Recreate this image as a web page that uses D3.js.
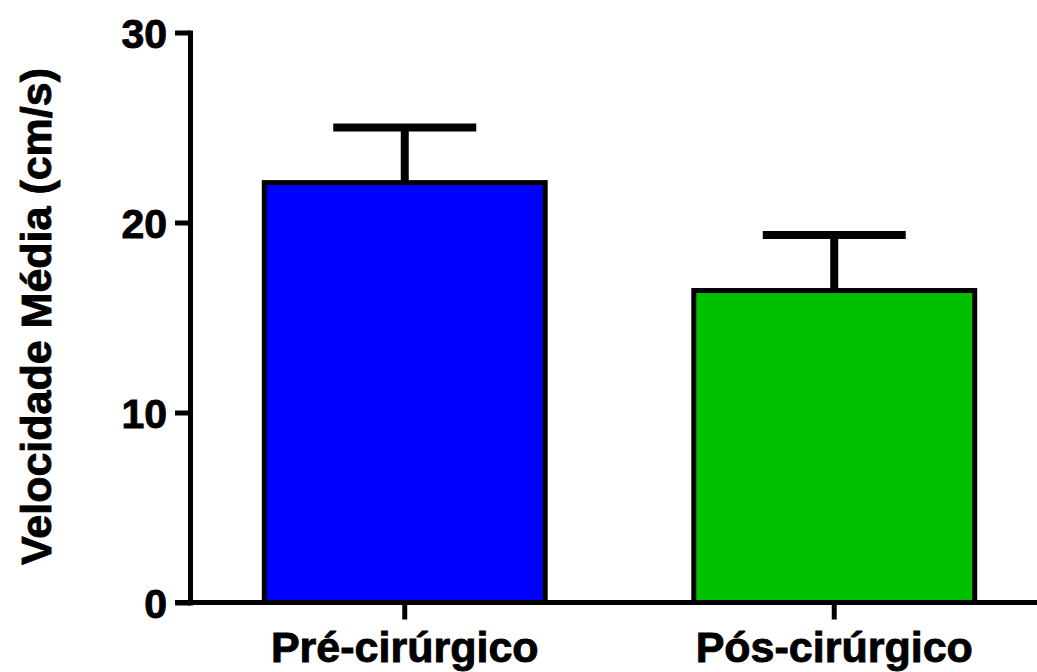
<!DOCTYPE html>
<html>
<head>
<meta charset="utf-8">
<script src="https://cdn.jsdelivr.net/npm/d3@7"></script>
<style>
  body { margin: 0; background: #fff; }
  text { font-family: "Liberation Sans", Arial, sans-serif; font-weight: bold; fill: #000; stroke: #000; stroke-width: 0.9px; }
</style>
</head>
<body>
<svg width="1037" height="672"></svg>
<script>
// data
var categories = ["Pré-cirúrgico", "Pós-cirúrgico"];
var means = [22.1, 16.42];
var sem = [2.9, 2.92];
var colors = ["#0000ff", "#00c000"];
var yTicks = [0, 10, 20, 30];

var svg = d3.select("svg");

var y = d3.scaleLinear().domain([0, 30]).range([602.5, 32.5]);
var x = d3.scaleBand().domain(categories).range([190, 1049])
    .paddingInner(0.346).paddingOuter(0.173);

var data = categories.map(function(c, i) {
  return { cat: c, mean: means[i], err: sem[i], color: colors[i] };
});

// error bars (drawn first, bar covers the lower part)
var errs = svg.append("g").attr("class", "errors");
errs.selectAll("line.stem")
    .data(data)
    .enter().append("line")
      .attr("class", "stem")
      .attr("x1", d => x(d.cat) + x.bandwidth() / 2)
      .attr("x2", d => x(d.cat) + x.bandwidth() / 2)
      .attr("y1", d => y(d.mean))
      .attr("y2", d => y(d.mean + d.err))
      .attr("stroke", "#000")
      .attr("stroke-width", 8);
errs.selectAll("line.cap")
    .data(data)
    .enter().append("line")
      .attr("class", "cap")
      .attr("x1", d => x(d.cat) + x.bandwidth() / 2 - 71.5)
      .attr("x2", d => x(d.cat) + x.bandwidth() / 2 + 71.5)
      .attr("y1", d => y(d.mean + d.err))
      .attr("y2", d => y(d.mean + d.err))
      .attr("stroke", "#000")
      .attr("stroke-width", 8);

// bars
svg.append("g").attr("class", "bars")
  .selectAll("rect")
  .data(data)
  .enter().append("rect")
    .attr("x", d => x(d.cat))
    .attr("y", d => y(d.mean))
    .attr("width", x.bandwidth())
    .attr("height", d => y(0) - y(d.mean))
    .attr("fill", d => d.color)
    .attr("stroke", "#000")
    .attr("stroke-width", 5);

// y axis
var yAxis = svg.append("g")
    .attr("transform", "translate(190,0)")
    .call(d3.axisLeft(y).tickValues(yTicks).tickSize(15).tickPadding(8).tickSizeOuter(0));
yAxis.select(".domain").attr("stroke-width", 5).attr("stroke-linecap", "square");
yAxis.selectAll(".tick line").attr("stroke-width", 5);
yAxis.selectAll(".tick text").style("font-size", "41px").attr("dy", "0.36em");

// x axis
var xAxis = svg.append("g")
    .attr("transform", "translate(0," + y(0) + ")")
    .call(d3.axisBottom(x).tickSize(17).tickPadding(5).tickSizeOuter(0));
xAxis.select(".domain").attr("d", "M175,0H1037").attr("stroke-width", 5);
xAxis.selectAll(".tick line").attr("stroke-width", 5);
xAxis.selectAll(".tick text").style("font-size", "43px").attr("dy", "0.88em");

// y label
svg.append("text")
    .attr("transform", "translate(51,316.5) rotate(-90)")
    .attr("text-anchor", "middle")
    .style("font-size", "43px")
    .text("Velocidade Média (cm/s)");
</script>
</body>
</html>
